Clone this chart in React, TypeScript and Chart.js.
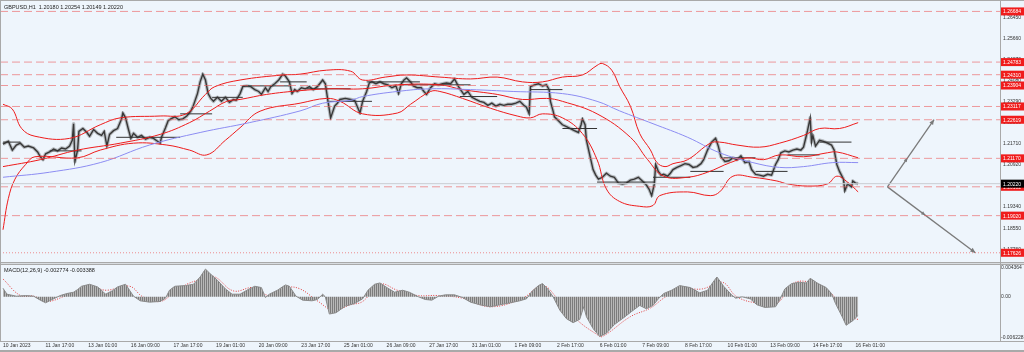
import React, { useEffect, useRef } from 'react';
import { Chart, registerables } from 'chart.js';
Chart.register(...registerables);

const TITLE = 'GBPUSD,H1  1.20180 1.20254 1.20149 1.20220';
const MACD_TITLE = 'MACD(12,26,9) -0.002774 -0.003388';

const TIME_TICKS = [0, 32, 64, 96, 128, 160, 192, 224, 256, 288, 320, 352, 384, 416, 448, 480, 512, 544, 576, 608, 640];
const TIME_LABELS = ['10 Jan 2023', '11 Jan 17:00', '13 Jan 01:00', '16 Jan 09:00', '17 Jan 17:00', '19 Jan 01:00', '20 Jan 09:00', '23 Jan 17:00', '25 Jan 01:00', '26 Jan 09:00', '27 Jan 17:00', '31 Jan 01:00', '1 Feb 09:00', '2 Feb 17:00', '6 Feb 01:00', '7 Feb 09:00', '8 Feb 17:00', '10 Feb 01:00', '13 Feb 09:00', '14 Feb 17:00', '16 Feb 01:00'];

const PRICE_TICKS = [1.2645, 1.2566, 1.2487, 1.2408, 1.2329, 1.225, 1.2171, 1.2092, 1.2013, 1.1934, 1.1855, 1.1776];

const LEVELS = [1.26684, 1.24783, 1.2431, 1.23904, 1.23117, 1.22619, 1.2117, 1.20102, 1.1902];
const DOTTED_LEVEL = 1.17626;
const LAST_PRICE = 1.2022;

const PRICE_X = [0, 4, 7, 10, 13, 16, 19, 23, 26, 28, 30, 32, 35, 38, 41, 44, 47, 50, 52, 53, 54, 56, 57, 60, 63, 65, 68, 71, 74, 76, 78, 80, 83, 86, 89, 90, 92, 94, 96, 98, 101, 104, 107, 110, 113, 116, 118, 119, 122, 124, 126, 129, 132, 135, 138, 141, 143, 146, 148, 150, 152, 154, 156, 158, 161, 164, 167, 170, 173, 175, 178, 180, 183, 186, 189, 192, 194, 197, 199, 201, 204, 207, 210, 212, 215, 217, 219, 221, 224, 227, 230, 233, 236, 240, 242, 244, 246, 249, 251, 253, 257, 261, 264, 268, 270, 273, 275, 277, 280, 283, 286, 289, 292, 295, 297, 299, 301, 303, 306, 308, 311, 314, 316, 318, 321, 324, 327, 330, 333, 336, 339, 342, 344, 346, 349, 352, 355, 358, 361, 364, 367, 370, 373, 376, 379, 382, 385, 388, 391, 393, 395, 396, 399, 402, 405, 408, 410, 411, 413, 414, 417, 420, 423, 426, 429, 432, 434, 435, 437, 438, 441, 443, 445, 447, 450, 453, 456, 459, 462, 465, 468, 471, 474, 477, 480, 483, 485, 487, 489, 490, 492, 494, 496, 499, 501, 503, 506, 509, 512, 515, 518, 521, 524, 526, 529, 532, 535, 537, 539, 542, 545, 548, 551, 554, 557, 560, 562, 565, 568, 571, 574, 577, 580, 582, 584, 587, 590, 593, 596, 599, 601, 603, 604, 606, 607, 608, 610, 613, 616, 619, 622, 624, 626, 628, 631, 632, 634, 637, 638, 640, 642];
const PRICE_Y = [1.2170, 1.2181, 1.2148, 1.2167, 1.2174, 1.2159, 1.2163, 1.2156, 1.2141, 1.2123, 1.2112, 1.2134, 1.2141, 1.2152, 1.2145, 1.2156, 1.2152, 1.2163, 1.2185, 1.2247, 1.2105, 1.2148, 1.2218, 1.2229, 1.2214, 1.2200, 1.2225, 1.2211, 1.2203, 1.2218, 1.2163, 1.2207, 1.2221, 1.2229, 1.2265, 1.2287, 1.2269, 1.2229, 1.2192, 1.2211, 1.2196, 1.2203, 1.2189, 1.2196, 1.2192, 1.2181, 1.2174, 1.2196, 1.2232, 1.2258, 1.2265, 1.2273, 1.2262, 1.2265, 1.2276, 1.2294, 1.2316, 1.2360, 1.2404, 1.2433, 1.2411, 1.2360, 1.2342, 1.2331, 1.2346, 1.2331, 1.2346, 1.2327, 1.2338, 1.2335, 1.2360, 1.2386, 1.2389, 1.2386, 1.2375, 1.2368, 1.2357, 1.2382, 1.2368, 1.2386, 1.2397, 1.2411, 1.2433, 1.2426, 1.2404, 1.2360, 1.2375, 1.2368, 1.2382, 1.2378, 1.2386, 1.2375, 1.2386, 1.2411, 1.2397, 1.2331, 1.2269, 1.2313, 1.2324, 1.2338, 1.2342, 1.2338, 1.2335, 1.2287, 1.2331, 1.2368, 1.2400, 1.2404, 1.2397, 1.2404, 1.2397, 1.2393, 1.2382, 1.2389, 1.2360, 1.2397, 1.2411, 1.2419, 1.2404, 1.2389, 1.2382, 1.2382, 1.2368, 1.2357, 1.2382, 1.2397, 1.2393, 1.2397, 1.2400, 1.2397, 1.2415, 1.2386, 1.2371, 1.2357, 1.2368, 1.2346, 1.2338, 1.2331, 1.2327, 1.2316, 1.2324, 1.2313, 1.2320, 1.2316, 1.2320, 1.2320, 1.2324, 1.2331, 1.2316, 1.2309, 1.2284, 1.2386, 1.2393, 1.2397, 1.2389, 1.2393, 1.2375, 1.2331, 1.2294, 1.2273, 1.2258, 1.2243, 1.2236, 1.2229, 1.2221, 1.2214, 1.2243, 1.2265, 1.2243, 1.2185, 1.2119, 1.2075, 1.2054, 1.2039, 1.2046, 1.2061, 1.2050, 1.2046, 1.2024, 1.2021, 1.2024, 1.2035, 1.2039, 1.2046, 1.2032, 1.2017, 1.2002, 1.1977, 1.2021, 1.2094, 1.2068, 1.2054, 1.2057, 1.2050, 1.2061, 1.2075, 1.2083, 1.2090, 1.2097, 1.2094, 1.2083, 1.2086, 1.2097, 1.2112, 1.2149, 1.2178, 1.2192, 1.2163, 1.2123, 1.2105, 1.2108, 1.2119, 1.2112, 1.2126, 1.2101, 1.2105, 1.2075, 1.2057, 1.2054, 1.2050, 1.2057, 1.2054, 1.2094, 1.2112, 1.2138, 1.2145, 1.2141, 1.2148, 1.2152, 1.2148, 1.2159, 1.2200, 1.2221, 1.2269, 1.2178, 1.2203, 1.2163, 1.2185, 1.2181, 1.2174, 1.2167, 1.2148, 1.2094, 1.2068, 1.2039, 1.1995, 1.2021, 1.2010, 1.2032, 1.2024, 1.2022];

const UB_X = [0, 7, 14, 24, 50, 73, 88, 118, 137, 152, 159, 178, 210, 223, 243, 261, 270, 287, 303, 328, 351, 371, 390, 405, 420, 435, 446, 450, 457, 463, 471, 478, 486, 491, 497, 503, 514, 531, 538, 551, 568, 583, 601, 613, 628, 642];
const UB_Y = [1.2320, 1.2302, 1.2229, 1.2200, 1.2192, 1.2243, 1.2269, 1.2276, 1.2283, 1.2357, 1.2386, 1.2411, 1.2430, 1.2433, 1.2448, 1.2444, 1.2411, 1.2422, 1.2430, 1.2422, 1.2415, 1.2422, 1.2404, 1.2404, 1.2422, 1.2430, 1.2466, 1.2473, 1.2448, 1.2386, 1.2313, 1.2210, 1.2149, 1.2101, 1.2086, 1.2097, 1.2112, 1.2174, 1.2178, 1.2167, 1.2159, 1.2174, 1.2203, 1.2229, 1.2229, 1.2251];
const MB_X = [0, 28, 56, 88, 118, 140, 155, 168, 178, 198, 223, 245, 270, 296, 328, 345, 371, 390, 408, 420, 446, 471, 484, 496, 514, 529, 546, 559, 571, 583, 601, 619, 626, 642];
const MB_Y = [1.2086, 1.2112, 1.2148, 1.2174, 1.2207, 1.2251, 1.2294, 1.2331, 1.2338, 1.2357, 1.2371, 1.2378, 1.2378, 1.2393, 1.2393, 1.2375, 1.2357, 1.2338, 1.2342, 1.2331, 1.2284, 1.2196, 1.2112, 1.2050, 1.2046, 1.2065, 1.2101, 1.2119, 1.2112, 1.2130, 1.2123, 1.2138, 1.2141, 1.2119];
const LB_X = [0, 4, 9, 17, 24, 56, 73, 98, 123, 140, 153, 167, 178, 193, 223, 243, 253, 270, 296, 306, 321, 328, 345, 366, 386, 396, 405, 420, 435, 446, 453, 463, 478, 488, 493, 514, 531, 538, 548, 563, 581, 589, 604, 619, 626, 634, 642];
const LB_Y = [1.1849, 1.1966, 1.2039, 1.2094, 1.2123, 1.2119, 1.2148, 1.2174, 1.2167, 1.2148, 1.2130, 1.2185, 1.2232, 1.2294, 1.2324, 1.2342, 1.2331, 1.2284, 1.2287, 1.2320, 1.2368, 1.2368, 1.2342, 1.2305, 1.2276, 1.2269, 1.2284, 1.2269, 1.2210, 1.2112, 1.2002, 1.1955, 1.1937, 1.1940, 1.1977, 1.1991, 1.1977, 1.1991, 1.2050, 1.2046, 1.2032, 1.2021, 1.2013, 1.2021, 1.2050, 1.2028, 1.1991];
const MA_X = [0, 35, 73, 110, 148, 185, 223, 240, 261, 270, 296, 321, 351, 383, 420, 446, 463, 488, 514, 538, 563, 583, 601, 623, 642];
const MA_Y = [1.2046, 1.2065, 1.2101, 1.2167, 1.2214, 1.2251, 1.2295, 1.2324, 1.2335, 1.2349, 1.2368, 1.2378, 1.2375, 1.2368, 1.2360, 1.2331, 1.2295, 1.2247, 1.2196, 1.2138, 1.2101, 1.2083, 1.2086, 1.2101, 1.2101];

const PIVOT_START = [0, 35, 85, 133, 157, 180, 208, 228, 245, 273, 298, 343, 396, 420, 446, 488, 516, 541, 565, 589, 613];
const PIVOT_END = [13, 59, 133, 157, 180, 215, 228, 261, 277, 313, 351, 371, 420, 446, 489, 516, 541, 565, 589, 613, 637];
const PIVOT_LEVEL = [1.2178, 1.2145, 1.2196, 1.2284, 1.2346, 1.2389, 1.2404, 1.2378, 1.2331, 1.2404, 1.2393, 1.2349, 1.2375, 1.2229, 1.2028, 1.2046, 1.2068, 1.2119, 1.2068, 1.2130, 1.2178];

const PROJ_UP_X = [664, 699];
const PROJ_UP_Y = [1.2010, 1.2262];
const PROJ_DOWN_X = [664, 730];
const PROJ_DOWN_Y = [1.2010, 1.1763];

const HIST_X = [0, 3, 10, 17, 23, 28, 32, 35, 39, 43, 48, 53, 56, 59, 65, 71, 75, 77, 82, 86, 92, 95, 98, 103, 110, 118, 122, 125, 129, 137, 143, 148, 152, 155, 161, 167, 172, 178, 184, 189, 194, 197, 200, 206, 212, 215, 220, 225, 232, 236, 240, 242, 245, 250, 257, 264, 270, 274, 279, 283, 289, 294, 300, 305, 312, 317, 322, 327, 332, 339, 345, 351, 358, 366, 373, 381, 388, 393, 397, 402, 405, 409, 413, 418, 423, 428, 433, 436, 438, 443, 448, 453, 459, 467, 472, 478, 483, 488, 492, 496, 502, 508, 516, 523, 529, 533, 536, 541, 547, 550, 555, 561, 566, 572, 580, 583, 587, 592, 598, 603, 606, 612, 618, 622, 625, 630, 633, 638, 642];
const HIST_Y = [0.0013, 0.0004, 0.0001, 0.0002, 0.0001, -0.0005, -0.0009, -0.0006, -0.0002, 0.0002, 0.0005, 0.0007, 0.0011, 0.0016, 0.0019, 0.0015, 0.0008, 0.0004, 0.0009, 0.0015, 0.0019, 0.0010, 0.0001, -0.0006, -0.0008, -0.0007, -0.0002, 0.0010, 0.0016, 0.0017, 0.0019, 0.0030, 0.0042, 0.0036, 0.0025, 0.0012, 0.0004, 0.0004, 0.0011, 0.0016, 0.0014, -0.0001, 0.0004, 0.0010, 0.0018, 0.0016, 0.0001, -0.0005, -0.0006, -0.0004, 0.0004, 0.0000, -0.0026, -0.0024, -0.0014, -0.0010, -0.0003, 0.0010, 0.0019, 0.0021, 0.0013, 0.0007, 0.0010, 0.0007, 0.0000, -0.0004, -0.0005, 0.0001, 0.0003, 0.0003, -0.0001, -0.0008, -0.0012, -0.0015, -0.0012, -0.0009, -0.0006, -0.0003, 0.0008, 0.0017, 0.0020, 0.0012, 0.0000, -0.0020, -0.0033, -0.0039, -0.0034, -0.0015, -0.0030, -0.0048, -0.0060, -0.0055, -0.0042, -0.0030, -0.0022, -0.0013, -0.0018, -0.0013, -0.0003, 0.0005, 0.0010, 0.0017, 0.0014, 0.0006, 0.0010, 0.0022, 0.0030, 0.0016, 0.0003, -0.0002, 0.0000, -0.0003, -0.0012, -0.0016, -0.0015, -0.0005, 0.0012, 0.0020, 0.0022, 0.0021, 0.0028, 0.0020, 0.0014, 0.0005, -0.0010, -0.0030, -0.0043, -0.0036, -0.0028];
const SIG_X = [0, 13, 23, 33, 48, 68, 78, 95, 105, 118, 128, 138, 148, 158, 173, 188, 200, 213, 223, 236, 248, 261, 270, 283, 296, 311, 326, 345, 366, 390, 405, 416, 431, 446, 450, 471, 486, 496, 508, 525, 540, 551, 568, 581, 593, 606, 621, 633, 643];
const SIG_Y = [0.0027, 0.0002, 0.0001, -0.0007, 0.0002, 0.0013, 0.0010, 0.0016, 0.0000, -0.0007, 0.0006, 0.0019, 0.0026, 0.0031, 0.0009, 0.0014, 0.0002, 0.0014, 0.0012, -0.0006, -0.0020, -0.0012, -0.0007, 0.0019, 0.0010, 0.0002, 0.0002, -0.0002, -0.0015, -0.0002, 0.0017, -0.0002, -0.0035, -0.0057, -0.0060, -0.0030, -0.0017, -0.0002, 0.0012, 0.0012, 0.0022, 0.0000, -0.0010, -0.0010, 0.0020, 0.0022, 0.0007, -0.0027, -0.0035];
const MACD_TICKS = [0.004364, 0, -0.006228];
const MACD_TICK_LABELS = ['0.004364', '0.00', '-0.006228'];

const X_MIN = -2.25;
const X_MAX = 748.5;
const BG = '#EEF5FC';
const FONT = 'Liberation Sans, Arial, sans-serif';

const pts = (xs: number[], ys: number[]) => xs.map((x, i) => ({ x, y: ys[i] }));

function pivotData() {
  const out: any[] = [];
  PIVOT_START.forEach((s, i) => {
    out.push({ x: s, y: PIVOT_LEVEL[i] });
    out.push({ x: PIVOT_END[i], y: PIVOT_LEVEL[i] });
    out.push({ x: PIVOT_END[i] + 0.01, y: null });
  });
  return out;
}

function arrowHead(ctx: CanvasRenderingContext2D, x: number, y: number, ang: number, size: number) {
  ctx.save();
  ctx.translate(x, y);
  ctx.rotate(ang);
  ctx.beginPath();
  ctx.moveTo(0, 0);
  ctx.lineTo(-size, -size * 0.45);
  ctx.lineTo(-size, size * 0.45);
  ctx.closePath();
  ctx.fill();
  ctx.restore();
}

export default function App() {
  const mainRef = useRef<HTMLCanvasElement>(null);
  const macdRef = useRef<HTMLCanvasElement>(null);

  useEffect(() => {
    const mainDecor = {
      id: 'mainDecor',
      afterDraw(chart: any) {
        const ctx = chart.ctx as CanvasRenderingContext2D;
        const ys = chart.scales.y;
        const xs = chart.scales.x;
        const area = chart.chartArea;
        ctx.save();
        ctx.fillStyle = '#A9A9A9';
        ctx.fillRect(0, 0, 1024, 1);
        ctx.fillRect(area.right, 0, 1, chart.height);
        ctx.fillRect(0, 0, 1, chart.height);
        ctx.fillStyle = '#222';
        ctx.font = `5.5px ${FONT}`;
        ctx.textBaseline = 'middle';
        ctx.textAlign = 'left';
        ctx.fillText(TITLE, 4, 7);
        ctx.fillStyle = '#7a7a7a';
        const drawProj = (px: number[], py: number[]) => {
          const x0 = xs.getPixelForValue(px[0]);
          const y0 = ys.getPixelForValue(py[0]);
          const x1 = xs.getPixelForValue(px[1]);
          const y1 = ys.getPixelForValue(py[1]);
          const ang = Math.atan2(y1 - y0, x1 - x0);
          arrowHead(ctx, x1, y1, ang, 5);
          arrowHead(ctx, x0 + (x1 - x0) * 0.43, y0 + (y1 - y0) * 0.43, ang, 4);
        };
        drawProj(PROJ_UP_X, PROJ_UP_Y);
        drawProj(PROJ_DOWN_X, PROJ_DOWN_Y);
        ctx.font = `5px ${FONT}`;
        const box = (v: number, bg: string) => {
          const y = ys.getPixelForValue(v);
          ctx.fillStyle = bg;
          ctx.fillRect(area.right + 1, y - 4, 23, 8);
          ctx.fillStyle = '#fff';
          ctx.fillText(v.toFixed(5), area.right + 3, y + 0.5);
        };
        LEVELS.forEach((v) => box(v, '#F01C1C'));
        box(DOTTED_LEVEL, '#F01C1C');
        box(LAST_PRICE, '#000');
        ctx.restore();
      },
    };

    const levelSets = LEVELS.map((l) => ({
      data: [{ x: X_MIN, y: l }, { x: X_MAX, y: l }],
      borderColor: 'rgba(236,96,96,0.62)',
      borderWidth: 1,
      borderDash: [8, 4],
    }));

    const main = new Chart(mainRef.current!, {
      type: 'line',
      data: {
        datasets: [
          ...levelSets,
          { data: [{ x: X_MIN, y: DOTTED_LEVEL }, { x: X_MAX, y: DOTTED_LEVEL }], borderColor: 'rgba(236,96,96,0.7)', borderWidth: 1, borderDash: [1, 2] },
          { data: [{ x: X_MIN, y: LAST_PRICE }, { x: X_MAX, y: LAST_PRICE }], borderColor: '#C9CDD2', borderWidth: 1 },
          { data: pts(MA_X, MA_Y), borderColor: '#8C8CF2', borderWidth: 1, tension: 0.4 },
          { data: pts(UB_X, UB_Y), borderColor: '#EE1B1B', borderWidth: 1, tension: 0.4 },
          { data: pts(MB_X, MB_Y), borderColor: '#EE1B1B', borderWidth: 1, tension: 0.4 },
          { data: pts(LB_X, LB_Y), borderColor: '#EE1B1B', borderWidth: 1, tension: 0.4 },
          { data: pivotData(), borderColor: '#333', borderWidth: 1, spanGaps: false },
          { data: pts(PRICE_X, PRICE_Y), borderColor: 'rgba(80,80,80,0.35)', borderWidth: 3.5, borderJoinStyle: 'round' },
          { data: pts(PRICE_X, PRICE_Y), borderColor: '#2a2a2a', borderWidth: 1.4 },
          { data: pts(PROJ_UP_X, PROJ_UP_Y), borderColor: '#7a7a7a', borderWidth: 1.3 },
          { data: pts(PROJ_DOWN_X, PROJ_DOWN_Y), borderColor: '#7a7a7a', borderWidth: 1.3 },
        ] as any,
      },
      options: {
        responsive: false,
        animation: false,
        devicePixelRatio: 1,
        events: [],
        layout: { padding: { top: 2, bottom: 3, left: 0, right: 0 } },
        elements: { point: { radius: 0 }, line: { fill: false } },
        plugins: { legend: { display: false }, tooltip: { enabled: false } },
        scales: {
          x: { type: 'linear', min: X_MIN, max: X_MAX, display: false },
          y: {
            type: 'linear',
            position: 'right',
            min: 1.17505,
            max: 1.26888,
            afterFit: (s: any) => { s.width = 24; },
            afterBuildTicks: (s: any) => { s.ticks = PRICE_TICKS.map((v) => ({ value: v })); },
            grid: { display: false, drawTicks: false },
            border: { display: false },
            ticks: { padding: 3, color: '#333', font: { size: 5, family: FONT }, callback: (v: any) => Number(v).toFixed(5) },
          },
        },
      } as any,
      plugins: [mainDecor],
    });

    const pc = document.createElement('canvas');
    pc.width = 2;
    pc.height = 1;
    const pctx = pc.getContext('2d')!;
    pctx.fillStyle = '#7c7c7c';
    pctx.fillRect(0, 0, 1, 1);
    pctx.fillStyle = '#b8b8b8';
    pctx.fillRect(1, 0, 1, 1);
    const hatch = macdRef.current!.getContext('2d')!.createPattern(pc, 'repeat');

    const macdDecor = {
      id: 'macdDecor',
      afterDraw(chart: any) {
        const ctx = chart.ctx as CanvasRenderingContext2D;
        const area = chart.chartArea;
        ctx.save();
        ctx.fillStyle = '#A9A9A9';
        ctx.fillRect(0, 0, 1024, 3);
        ctx.fillStyle = '#D8DCE0';
        ctx.fillRect(0, 1, 1024, 1);
        ctx.fillStyle = '#A9A9A9';
        ctx.fillRect(area.right, 0, 1, area.bottom);
        ctx.fillRect(0, area.bottom, 1024, 1);
        ctx.fillRect(0, 88, 1024, 2);
        ctx.fillRect(0, 0, 1, area.bottom);
        ctx.fillStyle = '#222';
        ctx.font = `5.5px ${FONT}`;
        ctx.textBaseline = 'middle';
        ctx.fillText(MACD_TITLE, 4, 8);
        ctx.restore();
      },
    };

    const macd = new Chart(macdRef.current!, {
      type: 'line',
      data: {
        datasets: [
          { data: pts(HIST_X, HIST_Y), borderColor: '#8a8a8a', borderWidth: 1, backgroundColor: hatch, fill: 'origin' },
          { data: pts(SIG_X, SIG_Y), borderColor: '#E23A3A', borderWidth: 1, borderDash: [1, 1.5], tension: 0.4 },
        ] as any,
      },
      options: {
        responsive: false,
        animation: false,
        devicePixelRatio: 1,
        events: [],
        layout: { padding: { top: 3, bottom: 0, left: 0, right: 0 } },
        elements: { point: { radius: 0 } },
        plugins: { legend: { display: false }, tooltip: { enabled: false } },
        scales: {
          x: {
            type: 'linear',
            min: X_MIN,
            max: X_MAX,
            afterFit: (s: any) => { s.height = 11; },
            afterBuildTicks: (s: any) => { s.ticks = TIME_TICKS.map((v) => ({ value: v })); },
            grid: { display: false, drawTicks: false },
            border: { display: false },
            ticks: { autoSkip: false, maxRotation: 0, align: 'start', padding: 2, color: '#333', font: { size: 5, family: FONT }, callback: (_v: any, i: number) => TIME_LABELS[i] },
          },
          y: {
            type: 'linear',
            position: 'right',
            min: -0.006676,
            max: 0.004662,
            afterFit: (s: any) => { s.width = 24; },
            afterBuildTicks: (s: any) => { s.ticks = MACD_TICKS.map((v) => ({ value: v })); },
            grid: { display: false, drawTicks: false },
            border: { display: false },
            ticks: { padding: 1, color: '#333', font: { size: 5, family: FONT }, callback: (_v: any, i: number) => MACD_TICK_LABELS[i] },
          },
        },
      } as any,
      plugins: [macdDecor],
    });

    return () => {
      main.destroy();
      macd.destroy();
    };
  }, []);

  return (
    <div style={{ position: 'fixed', left: 0, top: 0, width: 1024, height: 352, background: BG, overflow: 'hidden' }}>
      <canvas ref={mainRef} width={1024} height={262} style={{ display: 'block', width: 1024, height: 262 }} />
      <canvas ref={macdRef} width={1024} height={90} style={{ display: 'block', width: 1024, height: 90 }} />
    </div>
  );
}
